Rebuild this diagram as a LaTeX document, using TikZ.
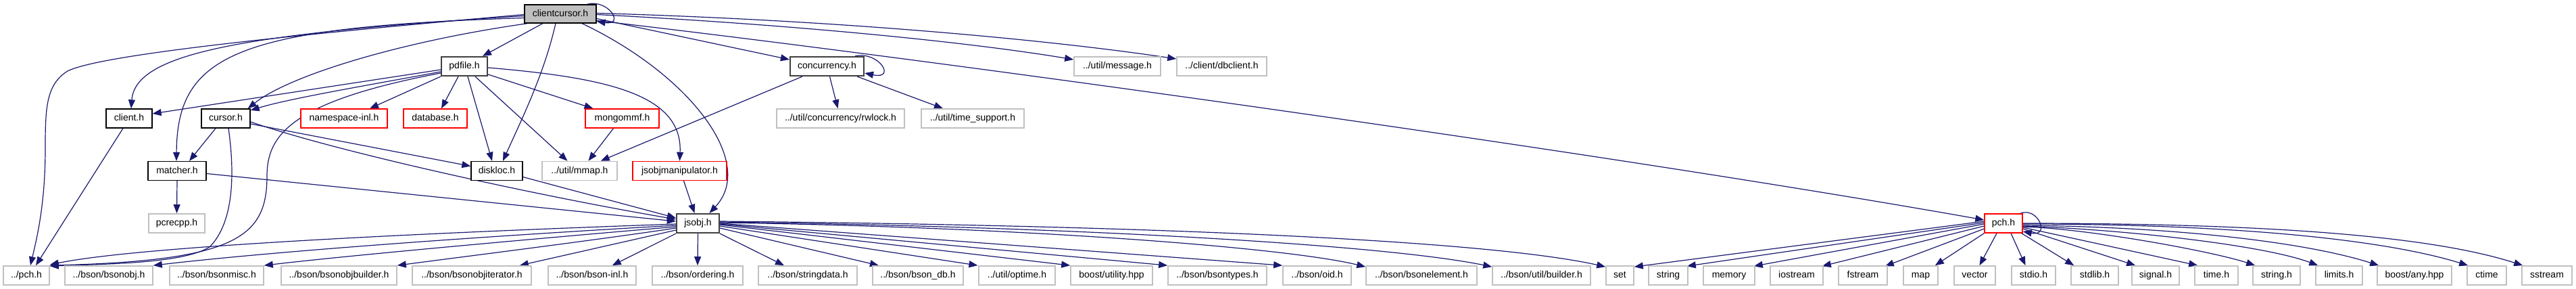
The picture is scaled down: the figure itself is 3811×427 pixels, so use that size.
\documentclass[tikz,border=0pt]{standalone}
\usepackage{fontspec}
\setmainfont{Liberation Sans}
\usetikzlibrary{arrows.meta,calc}
\definecolor{edgeblue}{HTML}{191970}
\definecolor{greyb}{HTML}{C0C0C0}
\definecolor{hubgrey}{HTML}{404040}
\definecolor{fillgrey}{HTML}{BFBFBF}
\pgfdeclarelayer{bg}
\pgfsetlayers{bg,main}
\tikzset{
  box/.style={rectangle, minimum height=28pt, inner sep=0pt, text height=10.5pt, text depth=3pt, fill=white, font=\fontsize{14}{16}\selectfont, line width=1.3pt},
  docnode/.style={box, draw=black},
  hubnode/.style={box, draw=hubgrey, line width=2.2pt},
  extnode/.style={box, draw=greyb, line width=1.6pt},
  truncnode/.style={box, draw=red, line width=1.4pt},
  dep/.style={draw=edgeblue, line width=1.2pt, -{Triangle[length=13pt,width=10pt]}},
}
\begin{document}
\begin{tikzpicture}[x=1pt,y=-1pt]
\useasboundingbox (0,0) rectangle (3811,427);
% row 1-2
\node[docnode, fill=fillgrey, minimum width=106pt, minimum height=27pt] (cc) at (829,20.5) {clientcursor.h};
\node[hubnode, minimum width=68pt] (pdfile) at (687,98) {pdfile.h};
\node[hubnode, minimum width=109pt] (conc) at (1223.5,98) {concurrency.h};
\node[extnode, minimum width=128pt] (message) at (1653,98) {../util/message.h};
\node[extnode, minimum width=133pt] (dbclient) at (1807.5,98) {../client/dbclient.h};
% row 3
\node[docnode, minimum width=68pt] (client) at (191,175) {client.h};
\node[docnode, minimum width=72pt] (cursor) at (334,175) {cursor.h};
\node[truncnode, minimum width=128pt] (nsinl) at (509,175) {namespace-inl.h};
\node[truncnode, minimum width=94pt] (database) at (644,175) {database.h};
\node[truncnode, minimum width=109pt] (mongommf) at (920.5,175) {mongommf.h};
\node[extnode, minimum width=189pt] (rwlock) at (1243.5,175) {../util/concurrency/rwlock.h};
\node[extnode, minimum width=152pt] (timesup) at (1439,175) {../util/time\_support.h};
% row 4
\node[docnode, minimum width=86pt] (matcher) at (262,252.5) {matcher.h};
\node[docnode, minimum width=76pt] (diskloc) at (735,252.5) {diskloc.h};
\node[extnode, minimum width=111pt] (mmap) at (857.5,252.5) {../util/mmap.h};
\node[truncnode, minimum width=139pt] (jsmanip) at (1005.5,252.5) {jsobjmanipulator.h};
% row 5
\node[extnode, minimum width=83pt] (pcrecpp) at (261.5,330) {pcrecpp.h};
\node[hubnode, minimum width=63pt] (jsobj) at (1032.5,330) {jsobj.h};
\node[truncnode, minimum width=56pt] (pch) at (2964,330) {pch.h};
% row 6
\node[extnode, minimum width=68pt] (dotpch) at (39,407) {../pch.h};
\node[extnode, minimum width=130pt] (bsonobj) at (161,407) {../bson/bsonobj.h};
\node[extnode, minimum width=139pt] (bsonmisc) at (320.5,407) {../bson/bsonmisc.h};
\node[extnode, minimum width=171pt] (bsonobjbuilder) at (501.5,407) {../bson/bsonobjbuilder.h};
\node[extnode, minimum width=176pt] (bsonobjiter) at (698,407) {../bson/bsonobjiterator.h};
\node[extnode, minimum width=130pt] (bsoninl) at (876,407) {../bson/bson-inl.h};
\node[extnode, minimum width=134pt] (ordering) at (1032,407) {../bson/ordering.h};
\node[extnode, minimum width=146pt] (stringdata) at (1195,407) {../bson/stringdata.h};
\node[extnode, minimum width=134pt] (bsondb) at (1358,407) {../bson/bson\_db.h};
\node[extnode, minimum width=113pt] (optime) at (1504.5,407) {../util/optime.h};
\node[extnode, minimum width=121pt] (boostutil) at (1644.5,407) {boost/utility.hpp};
\node[extnode, minimum width=146pt] (bsontypes) at (1801,407) {../bson/bsontypes.h};
\node[extnode, minimum width=101pt] (oid) at (1948.5,407) {../bson/oid.h};
\node[extnode, minimum width=164pt] (bsonelement) at (2103,407) {../bson/bsonelement.h};
\node[extnode, minimum width=145pt] (builder) at (2280.5,407) {../bson/util/builder.h};
\node[extnode, minimum width=41pt] (set) at (2396.5,407) {set};
\node[extnode, minimum width=58pt] (string) at (2468,407) {string};
\node[extnode, minimum width=76pt] (memory) at (2558,407) {memory};
\node[extnode, minimum width=78pt] (iostream) at (2658,407) {iostream};
\node[extnode, minimum width=72pt] (fstream) at (2756,407) {fstream};
\node[extnode, minimum width=51pt] (map) at (2841.5,407) {map};
\node[extnode, minimum width=61pt] (vector) at (2921.5,407) {vector};
\node[extnode, minimum width=65pt] (stdio) at (3008.5,407) {stdio.h};
\node[extnode, minimum width=70pt] (stdlib) at (3099,407) {stdlib.h};
\node[extnode, minimum width=70pt] (signal) at (3189,407) {signal.h};
\node[extnode, minimum width=64pt] (timeh) at (3279,407) {time.h};
\node[extnode, minimum width=70pt] (stringh) at (3368,407) {string.h};
\node[extnode, minimum width=69pt] (limits) at (3460.5,407) {limits.h};
\node[extnode, minimum width=110pt] (boostany) at (3572,407) {boost/any.hpp};
\node[extnode, minimum width=58pt] (ctime) at (3679,407) {ctime};
\node[extnode, minimum width=74pt] (sstream) at (3768,407) {sstream};

\begin{pgfonlayer}{bg}
\fill[white] (0,0) rectangle (3811,427);
% clientcursor.h
\draw[dep] ($(cc.north east)+(-14,0)$) .. controls (900,-2) and (925,38) .. ($(cc.east)+(0,11)$);
\draw[dep] ($(cc.south)+(-26,0)$) -- ($(pdfile.north)+(27,0)$);
\draw[dep] ($(cc.west)+(0,3)$) .. controls (350,50) and (200,80) .. ($(client.north)+(3,0)$);
\draw[dep] ($(cc.west)+(0,1)$) .. controls (450,50) and (150,80) .. (100,105) .. controls (68,125) and (67,160) .. (67,220) .. controls (67,300) and (55,350) .. ($(dotpch.north)+(6,0)$);
\draw[dep] ($(cc.west)+(0,6)$) .. controls (350,40) and (262,80) .. ($(matcher.north)+(-1,0)$);
\draw[dep] ($(cc.south west)+(5,0)$) .. controls (600,60) and (430,110) .. ($(cursor.north east)+(-4,0)$);
\draw[dep] ($(cc.south)+(-7,0)$) .. controls (805,110) and (770,180) .. ($(diskloc.north)+(9,0)$);
\draw[dep] ($(cc.south)+(32,0)$) .. controls (1020,110) and (1120,240) .. ($(jsobj.north)+(17,0)$);
\draw[dep] ($(cc.east)+(0,7)$) -- ($(conc.west)+(0,-10)$);
\draw[dep] ($(cc.east)+(0,1)$) .. controls (1150,35) and (1420,60) .. ($(message.west)+(0,-10)$);
\draw[dep] ($(cc.east)+(0,-1)$) .. controls (1250,30) and (1560,60) .. ($(dbclient.west)+(0,-11)$);
\draw[dep] ($(cc.east)+(0,10)$) .. controls (1400,90) and (2400,230) .. ($(pch.west)+(0,-5)$);
% pdfile.h
\draw[dep] ($(pdfile.west)+(0,5)$) -- ($(client.east)+(0,-7)$);
\draw[dep] ($(pdfile.west)+(0,8)$) .. controls (550,125) and (430,145) .. ($(cursor.east)+(0,-12)$);
\draw[dep] ($(pdfile.west)+(0,10)$) .. controls (430,150) and (395,200) .. (395,260) .. controls (395,350) and (350,385) .. (dotpch.north east);
\draw[dep] (pdfile.south west) -- ($(nsinl.north)+(38,0)$);
\draw[dep] ($(pdfile.south)+(-9,0)$) -- ($(database.north)+(9,0)$);
\draw[dep] ($(pdfile.east)+(0,12)$) -- ($(mongommf.north)+(-43,0)$);
\draw[dep] ($(pdfile.south)+(5,0)$) -- ($(diskloc.north)+(-7,0)$);
\draw[dep] ($(pdfile.south)+(16,0)$) -- ($(mmap.north)+(-18,0)$);
\draw[dep] ($(pdfile.east)+(0,2)$) .. controls (900,115) and (1010,140) .. (jsmanip.north);
% concurrency.h
\draw[dep] ($(conc.north east)+(-14,0)$) .. controls (1300,75) and (1327,118) .. ($(conc.east)+(0,10)$);
\draw[dep] ($(conc.south)+(4,0)$) -- ($(rwlock.north)+(-4,0)$);
\draw[dep] ($(conc.south east)+(-11,0)$) -- ($(timesup.north)+(-44,0)$);
\draw[dep] ($(conc.south west)+(19,0)$) -- ($(mmap.north east)+(-25,0)$);
% client.h, cursor.h
\draw[dep] ($(client.south)+(-9,0)$) -- ($(dotpch.north)+(14,0)$);
\draw[dep] ($(cursor.south)+(-15,0)$) -- ($(matcher.north)+(18,0)$);
\draw[dep] ($(cursor.south)+(4,0)$) .. controls (348,260) and (345,330) .. (310,365) .. controls (270,390) and (150,390) .. ($(dotpch.north east)+(0,1)$);
\draw[dep] ($(cursor.east)+(0,8)$) -- ($(diskloc.west)+(0,-7)$);
\draw[dep] ($(cursor.east)+(0,5)$) .. controls (500,225) and (800,290) .. ($(jsobj.west)+(0,-6)$);
% matcher.h, diskloc.h, mongommf.h, jsobjmanipulator.h
\draw[dep] (matcher.south) -- (pcrecpp.north);
\draw[dep] ($(matcher.east)+(0,4)$) -- ($(jsobj.west)+(0,-3)$);
\draw[dep] ($(diskloc.east)+(0,9)$) -- ($(jsobj.west)+(0,-8)$);
\draw[dep] ($(mongommf.south)+(-13,0)$) -- ($(mmap.north)+(13,0)$);
\draw[dep] ($(jsmanip.south)+(6,0)$) -- ($(jsobj.north)+(-5,0)$);
% jsobj.h
\draw[dep] ($(jsobj.west)+(0,1)$) .. controls (600,345) and (200,365) .. ($(dotpch.north east)+(0,-1)$);
\draw[dep] ($(jsobj.west)+(0,3)$) .. controls (700,350) and (400,372) .. (bsonobj.north east);
\draw[dep] ($(jsobj.west)+(0,5)$) .. controls (800,352) and (520,377) .. (bsonmisc.north east);
\draw[dep] ($(jsobj.west)+(0,7)$) .. controls (880,355) and (680,380) .. (bsonobjbuilder.north east);
\draw[dep] ($(jsobj.west)+(0,10)$) -- ($(bsonobjiter.north east)+(-18,0)$);
\draw[dep] (jsobj.south west) -- ($(bsoninl.north east)+(-36,0)$);
\draw[dep] (jsobj.south) -- (ordering.north);
\draw[dep] (jsobj.south east) -- ($(stringdata.north)+(-35,0)$);
\draw[dep] ($(jsobj.east)+(0,7)$) -- ($(bsondb.north)+(-58,0)$);
\draw[dep] ($(jsobj.east)+(0,4)$) -- ($(optime.north)+(-58,0)$);
\draw[dep] ($(jsobj.east)+(0,2)$) -- (boostutil.north west);
\draw[dep] ($(jsobj.east)+(0,1)$) -- (bsontypes.north west);
\draw[dep] (jsobj.east) -- (oid.north west);
\draw[dep] ($(jsobj.east)+(0,-1)$) .. controls (1500,335) and (1900,365) .. ($(bsonelement.north west)+(0,2)$);
\draw[dep] ($(jsobj.east)+(0,-2)$) .. controls (1600,335) and (2050,362) .. ($(builder.north west)+(0,2)$);
\draw[dep] ($(jsobj.east)+(0,-3)$) .. controls (1700,333) and (2200,355) .. ($(set.north west)+(0,2)$);
% pch.h
\draw[dep] ($(pch.north east)+(-4,0)$) .. controls (3015,305) and (3034,350) .. ($(pch.east)+(0,12)$);
\draw[dep] ($(pch.west)+(0,-3)$) -- ($(set.north east)+(0,2)$);
\draw[dep] ($(pch.west)+(0,-1)$) -- ($(string.north east)+(-2,1)$);
\draw[dep] ($(pch.west)+(0,1)$) -- ($(memory.north east)+(-2,1)$);
\draw[dep] ($(pch.west)+(0,4)$) -- ($(iostream.north east)+(-2,1)$);
\draw[dep] ($(pch.west)+(0,8)$) -- ($(fstream.north east)+(-4,1)$);
\draw[dep] (pch.south west) -- ($(map.north east)+(-5,0)$);
\draw[dep] ($(pch.south)+(-10,0)$) -- ($(vector.north)+(7,0)$);
\draw[dep] ($(pch.south)+(11,0)$) -- ($(stdio.north)+(-12,0)$);
\draw[dep] ($(pch.south east)+(-2,0)$) -- ($(stdlib.north west)+(5,0)$);
\draw[dep] ($(pch.east)+(0,8)$) -- ($(signal.north west)+(6,0)$);
\draw[dep] ($(pch.east)+(0,6)$) -- ($(timeh.north west)+(5,0)$);
\draw[dep] ($(pch.east)+(0,5)$) .. controls +(100,3) and +(-60,-20) .. ($(stringh.north west)+(4,0)$);
\draw[dep] ($(pch.east)+(0,4)$) .. controls +(150,5) and +(-80,-30) .. ($(limits.north west)+(4,0)$);
\draw[dep] ($(pch.east)+(0,3)$) .. controls +(220,2) and +(-110,-35) .. ($(boostany.north west)+(3,0)$);
\draw[dep] ($(pch.east)+(0,1)$) .. controls +(300,0) and +(-130,-40) .. ($(ctime.north west)+(2,0)$);
\draw[dep] (pch.east) .. controls +(350,0) and +(-140,-45) .. ($(sstream.north west)+(2,0)$);
\end{pgfonlayer}
\end{tikzpicture}
\end{document}
